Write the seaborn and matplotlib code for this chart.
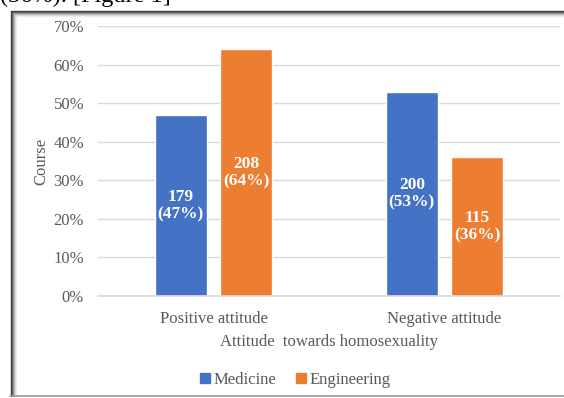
import matplotlib
matplotlib.use("Agg")
import matplotlib.pyplot as plt
import seaborn as sns
import pandas as pd
from matplotlib.patches import Rectangle
from matplotlib.lines import Line2D

categories = ["Positive attitude", "Negative attitude"]
courses = ["Medicine", "Engineering"]
medicine_pct = [0.47, 0.53]
engineering_pct = [0.64, 0.36]
medicine_n = [179, 200]
engineering_n = [208, 115]
yticks = [0, 0.1, 0.2, 0.3, 0.4, 0.5, 0.6, 0.7]
palette = {"Medicine": "#4472C4", "Engineering": "#ED7D31"}

df = pd.DataFrame({
    "Attitude": categories * 2,
    "Course": ["Medicine"] * 2 + ["Engineering"] * 2,
    "pct": medicine_pct + engineering_pct,
    "n": medicine_n + engineering_n,
})

sns.set_theme(style="white")
plt.rcParams["font.family"] = ["Liberation Serif", "DejaVu Serif"]

W, H = 564, 398
fig = plt.figure(figsize=(W / 100, H / 100), dpi=100)
ax = fig.add_axes([98 / W, 1 - 296 / H, (560 - 98) / W, (296 - 26) / H])

sns.barplot(data=df, x="Attitude", y="pct", hue="Course", order=categories,
            hue_order=courses, palette=palette, width=0.567, gap=0.2,
            saturation=1, ax=ax, legend=False)

ax.set_ylim(0, 0.7)
ax.set_xlim(-0.5, 1.5)
ax.set_yticks(yticks)
ax.set_yticklabels([f"{int(round(t*100))}%" for t in yticks])
ax.yaxis.grid(True, color="#D9D9D9", lw=1)
ax.set_axisbelow(True)
for s in ["top", "right", "left"]:
    ax.spines[s].set_visible(False)
ax.spines["bottom"].set_color("#D9D9D9")
ax.tick_params(axis="both", length=0, labelsize=12, labelcolor="#595959", pad=10)
ax.tick_params(axis="x", pad=11)
ax.set_xlabel("Attitude  towards homosexuality", fontsize=12, color="#595959", labelpad=5)
ax.set_ylabel("Course", fontsize=12, color="#595959", labelpad=3)

for cont, course in zip(ax.containers, courses):
    sub = df[df["Course"] == course].set_index("Attitude").loc[categories]
    labels = [f"{n}\n({int(round(p*100))}%)" for n, p in zip(sub["n"], sub["pct"])]
    ax.bar_label(cont, labels=labels, label_type="center", color="white",
                 fontweight="bold", fontsize=12.5, linespacing=1.1)

handles = [Rectangle((0, 0), 1, 1, color=palette[c]) for c in courses]
fig.legend(handles, courses, loc="center", bbox_to_anchor=(295 / W, 1 - 380 / H),
           ncol=2, frameon=False, fontsize=12, handlelength=0.6, handleheight=0.6,
           handletextpad=0.2, columnspacing=1.2, labelcolor="#595959")

# frame of the screenshot
def fx(x):
    return x / W
def fy(y):
    return 1 - y / H
for i, c in enumerate(["#3a3a3a", "#555555", "#8a8a8a", "#b5b5b5", "#d5d5d5", "#ececec"]):
    off = 10.5 + i
    fig.add_artist(Line2D([fx(off), fx(off)], [fy(off), fy(396)], color=c, lw=1.0))
    fig.add_artist(Line2D([fx(off), fx(W)], [fy(off), fy(off)], color=c, lw=1.0))
fig.add_artist(Line2D([fx(10), fx(W)], [fy(395.5), fy(395.5)], color="#9a9a9a", lw=1.2))

fig.text(0, fy(2), "(36%). [Figure 1]", fontsize=17.5, color="black",
         ha="left", va="baseline")

fig.savefig("out.png", dpi=100)
